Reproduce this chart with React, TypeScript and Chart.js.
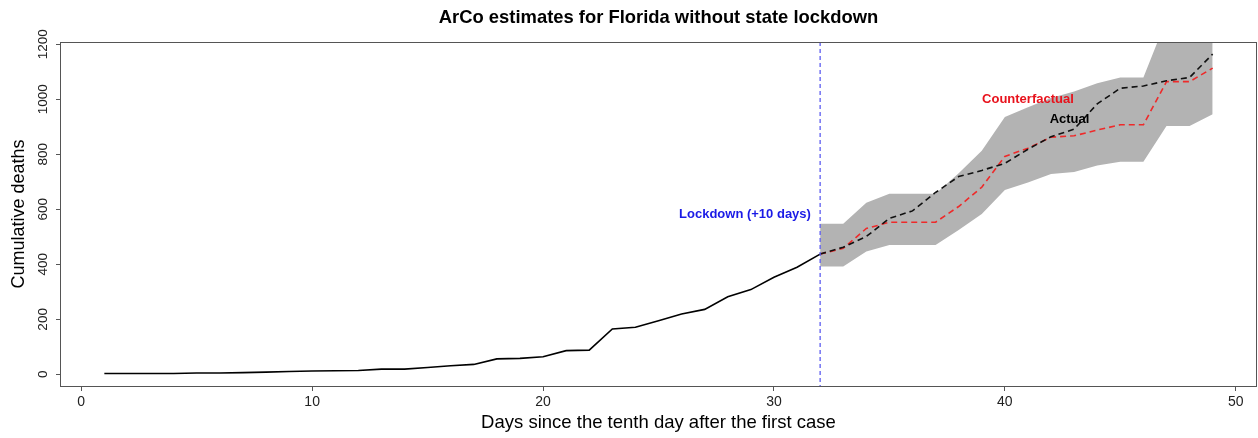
import React, { useEffect, useRef } from "react";
import { Chart, registerables } from "chart.js";

Chart.register(...registerables);

// ---- data ----
const days: number[] = Array.from({ length: 49 }, (_, i) => i + 1);
const actualDeaths: number[] = [
  3, 3, 3, 3, 5, 5, 6, 8, 10, 12, 13, 14, 19, 19, 25, 31, 36, 56, 58, 64,
  86, 88, 165, 171, 195, 219, 236, 282, 308, 353, 389, 437,
  462, 501, 567, 594, 661, 719, 741, 767, 818, 864, 891, 983, 1040, 1048, 1067, 1079, 1164,
];
const lockdownDay = 32;
const postDays: number[] = days.filter((d) => d >= lockdownDay);
const counterfactual: number[] = [
  437, 458, 530, 553, 553, 553, 610, 680, 792, 822, 862, 867, 888, 907, 907, 1064, 1064, 1113,
];
const bandUpper: number[] = [
  547, 547, 624, 656, 656, 656, 731, 813, 935, 971, 1004, 1028, 1058, 1079, 1079, 1290, 1300, 1310,
];
const bandLower: number[] = [
  392, 392, 446, 470, 470, 470, 525, 583, 670, 697, 728, 735, 759, 773, 773, 903, 903, 945,
];
const xTicks: number[] = [0, 10, 20, 30, 40, 50];
const yTicks: number[] = [0, 200, 400, 600, 800, 1000, 1200];

const titleText = "ArCo estimates for Florida without state lockdown";
const xTitle = "Days since the tenth day after the first case";
const yTitle = "Cumulative deaths";

// annotation labels (data coordinates)
const labels = [
  { text: "Lockdown (+10 days)", x: 31.6, y: 583, color: "#1a1ae6", align: "right" as CanvasTextAlign },
  { text: "Counterfactual", x: 41.0, y: 1000, color: "#e8121c", align: "center" as CanvasTextAlign },
  { text: "Actual", x: 42.8, y: 928, color: "#000000", align: "center" as CanvasTextAlign },
];

const FONT = '"Liberation Sans", Arial, Helvetica, sans-serif';

const decor = {
  id: "rdecor",
  afterDatasetsDraw(chart: any) {
    const { ctx, chartArea, scales } = chart;
    const x = scales.x.getPixelForValue(lockdownDay);
    ctx.save();
    ctx.strokeStyle = "#5c5cf0";
    ctx.lineWidth = 1.3;
    ctx.setLineDash([4, 3]);
    ctx.beginPath();
    ctx.moveTo(x, chartArea.top);
    ctx.lineTo(x, chartArea.bottom);
    ctx.stroke();
    ctx.restore();
  },
  afterDraw(chart: any) {
    const { ctx, chartArea, scales } = chart;
    ctx.save();
    // box
    ctx.strokeStyle = "#555555";
    ctx.lineWidth = 1;
    ctx.strokeRect(chartArea.left + 0.5, chartArea.top + 0.5, chartArea.right - chartArea.left - 1, chartArea.bottom - chartArea.top);
    // y tick labels (rotated, R style)
    ctx.fillStyle = "#222222";
    ctx.font = `13.6px ${FONT}`;
    ctx.textAlign = "center";
    ctx.textBaseline = "middle";
    for (const v of yTicks) {
      const py = scales.y.getPixelForValue(v);
      ctx.save();
      ctx.translate(43, py);
      ctx.rotate(-Math.PI / 2);
      ctx.fillText(String(v), 0, 0);
      ctx.restore();
    }
    // title
    ctx.fillStyle = "#000000";
    ctx.font = `bold 18.4px ${FONT}`;
    ctx.fillText(titleText, (chartArea.left + chartArea.right) / 2, 18);
    // annotations
    ctx.font = `bold 13px ${FONT}`;
    for (const l of labels) {
      ctx.fillStyle = l.color;
      ctx.textAlign = l.align;
      ctx.fillText(l.text, scales.x.getPixelForValue(l.x), scales.y.getPixelForValue(l.y));
    }
    ctx.restore();
  },
};

export default function App() {
  const ref = useRef<HTMLCanvasElement>(null);
  useEffect(() => {
    const canvas = ref.current;
    if (!canvas) return;
    const pre = days
      .filter((d) => d <= lockdownDay)
      .map((d) => ({ x: d, y: actualDeaths[d - 1] }));
    const postActual = postDays.map((d) => ({ x: d, y: actualDeaths[d - 1] }));
    const cf = postDays.map((d, i) => ({ x: d, y: counterfactual[i] }));
    const up = postDays.map((d, i) => ({ x: d, y: bandUpper[i] }));
    const lo = postDays.map((d, i) => ({ x: d, y: bandLower[i] }));

    const chart = new Chart(canvas, {
      type: "line",
      data: {
        datasets: [
          { label: "Actual (pre)", data: pre, borderColor: "#000000", borderWidth: 1.6, pointRadius: 0, tension: 0, fill: false },
          { label: "Actual", data: postActual, borderColor: "#111111", borderWidth: 1.6, borderDash: [6, 4], pointRadius: 0, tension: 0, fill: false },
          { label: "Counterfactual", data: cf, borderColor: "#ee2a2a", borderWidth: 1.6, borderDash: [6, 4], pointRadius: 0, tension: 0, fill: false },
          { label: "Upper", data: up, borderColor: "rgba(0,0,0,0)", borderWidth: 0, pointRadius: 0, tension: 0, fill: "+1", backgroundColor: "#b3b3b3" },
          { label: "Lower", data: lo, borderColor: "rgba(0,0,0,0)", borderWidth: 0, pointRadius: 0, tension: 0, fill: false },
        ],
      },
      options: {
        responsive: false,
        animation: false,
        devicePixelRatio: 1,
        layout: { padding: { top: 42, right: 1, bottom: 0, left: 0 } },
        plugins: {
          legend: { display: false },
          tooltip: { enabled: false },
          filler: { drawTime: "beforeDatasetsDraw" },
        },
        scales: {
          x: {
            type: "linear",
            min: -0.92,
            max: 50.92,
            afterBuildTicks: (s: any) => {
              s.ticks = xTicks.map((v) => ({ value: v }));
            },
            afterFit: (s: any) => {
              s.height = 52;
            },
            ticks: {
              autoSkip: false,
              maxRotation: 0,
              minRotation: 0,
              padding: 3,
              color: "#222222",
              font: { family: FONT, size: 14 },
              callback: (v: any) => String(v),
            },
            grid: { display: true, drawOnChartArea: false, drawTicks: true, tickLength: 5, color: "#555555" },
            border: { display: false },
            title: {
              display: true,
              text: xTitle,
              color: "#000000",
              font: { family: FONT, size: 18.5 },
              padding: { top: 0, bottom: 4.4 },
            },
          },
          y: {
            type: "linear",
            min: -42.5,
            max: 1208,
            afterBuildTicks: (s: any) => {
              s.ticks = yTicks.map((v) => ({ value: v }));
            },
            afterFit: (s: any) => {
              s.width = 60;
            },
            ticks: { display: false },
            grid: { display: true, drawOnChartArea: false, drawTicks: true, tickLength: 4, color: "#555555" },
            border: { display: false },
            title: {
              display: true,
              text: yTitle,
              color: "#000000",
              font: { family: FONT, size: 18 },
              padding: { top: 8.5, bottom: 0 },
            },
          },
        },
      },
      plugins: [decor],
    });
    return () => chart.destroy();
  }, []);
  return (
    <div style={{ position: "fixed", left: 0, top: 0, width: 1258, height: 438, background: "#ffffff" }}>
      <canvas ref={ref} width={1258} height={438} style={{ display: "block" }} />
    </div>
  );
}
